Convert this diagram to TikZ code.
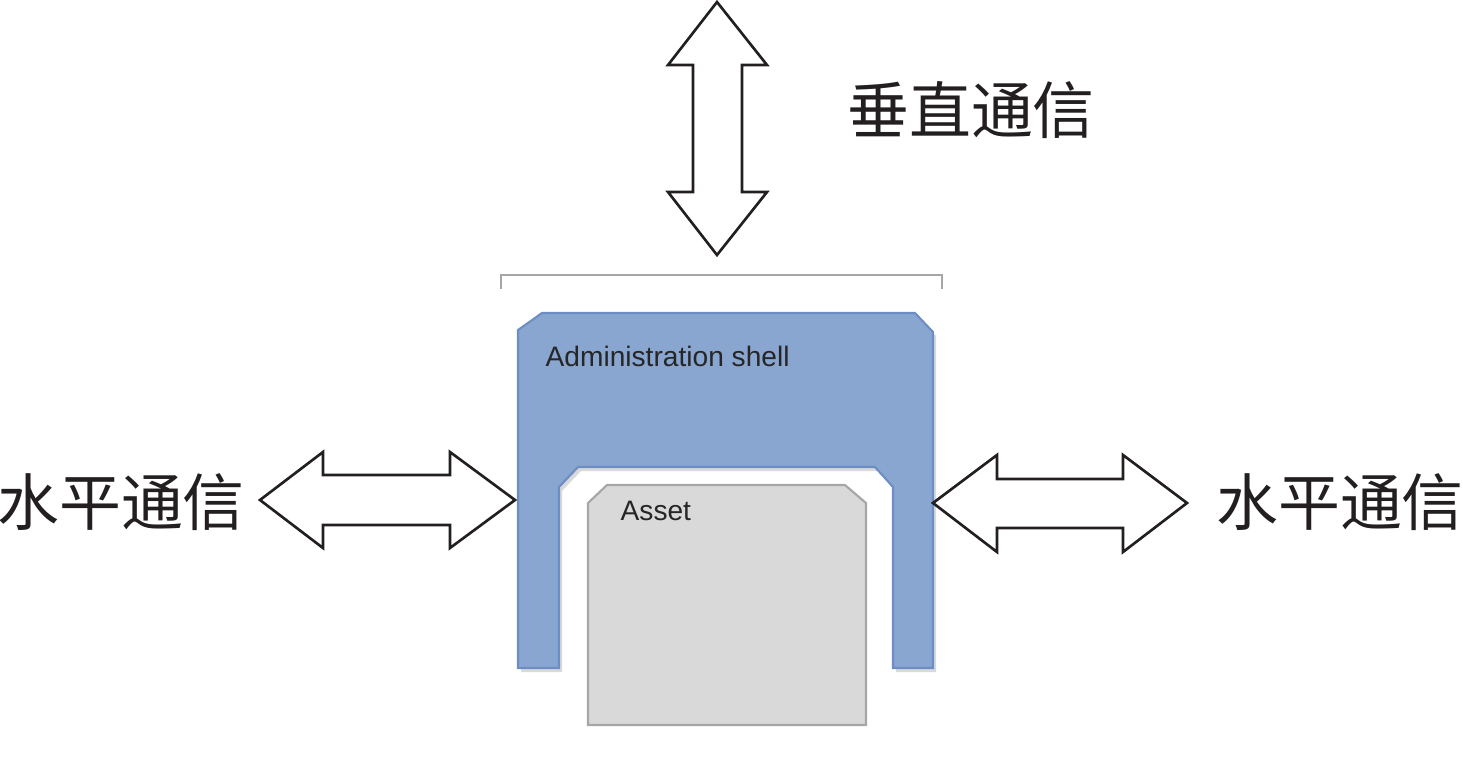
\documentclass[tikz,border=0pt]{standalone}
\usepackage{fontspec}
\setmainfont{Liberation Sans}
\newfontfamily\cjk{Noto Sans CJK SC}
\usepackage{tikz}
\usetikzlibrary{positioning}

\definecolor{shellblue}{RGB}{136,166,208}
\definecolor{shelledge}{RGB}{108,142,196}
\definecolor{assetgray}{RGB}{217,217,217}
\definecolor{assetedge}{RGB}{166,166,166}
\definecolor{inkdark}{RGB}{35,31,32}

\begin{document}
\begin{tikzpicture}[x=0.01cm,y=-0.01cm,
        blockarrow/.style={draw=inkdark,fill=white,line width=0.75pt,line join=miter},
        shell/.style={fill=shellblue,draw=shelledge,line width=0.6pt},
        asset/.style={fill=assetgray,draw=assetedge,line width=0.6pt},
        boxlabel/.style={inner sep=0pt,text=black!85,font=\fontsize{8pt}{9pt}\selectfont},
        cjklabel/.style={inner sep=0pt,text=inkdark,font=\cjk\fontsize{17.6pt}{20pt}\selectfont}]

        \useasboundingbox (0,0) rectangle (1463,757);

        % vertical arrow
        \draw[blockarrow] (717,2) -- (767,65) -- (742,65) -- (742,192) -- (767,192)
                          -- (717,255) -- (668,192) -- (693,192) -- (693,65) -- (668,65) -- cycle;

        % bracket
        \draw[gray!70,line width=0.6pt] (501,289) -- (501,275) -- (942,275) -- (942,289);

        % shell, with a soft shadow
        \fill[black!15,shift={(3,4)}] (518,330) -- (542,313) -- (915,313) -- (933,332) -- (933,668)
                          -- (893,668) -- (893,487) -- (875,467) -- (578,467) -- (559,487)
                          -- (559,668) -- (518,668) -- cycle;
        \draw[shell] (518,330) -- (542,313) -- (915,313) -- (933,332) -- (933,668)
                          -- (893,668) -- (893,487) -- (875,467) -- (578,467) -- (559,487)
                          -- (559,668) -- (518,668) -- cycle;

        % asset
        \draw[asset] (588,503) -- (607,485) -- (845,485) -- (866,503) -- (866,725) -- (588,725) -- cycle;

        \node[boxlabel,anchor=base west] (shelltext) at (545,366) {Administration shell};
        \node[boxlabel,anchor=base west] (assettext) at (620,520) {Asset};

        % horizontal arrows
        \draw[blockarrow] (260,500) -- (323,452) -- (323,475) -- (450,475) -- (450,452)
                          -- (515,500) -- (450,548) -- (450,525) -- (323,525) -- (323,548) -- cycle;
        \draw[blockarrow] (933,503) -- (997,455) -- (997,479) -- (1123,479) -- (1123,455)
                          -- (1187,503) -- (1123,552) -- (1123,528) -- (997,528) -- (997,552) -- cycle;

        \node[cjklabel] (vertical) at (971,110) {垂直通信};
        \node[cjklabel] (left) at (121,502) {水平通信};
        \node[cjklabel] (right) at (1340,502) {水平通信};
\end{tikzpicture}
\end{document}
